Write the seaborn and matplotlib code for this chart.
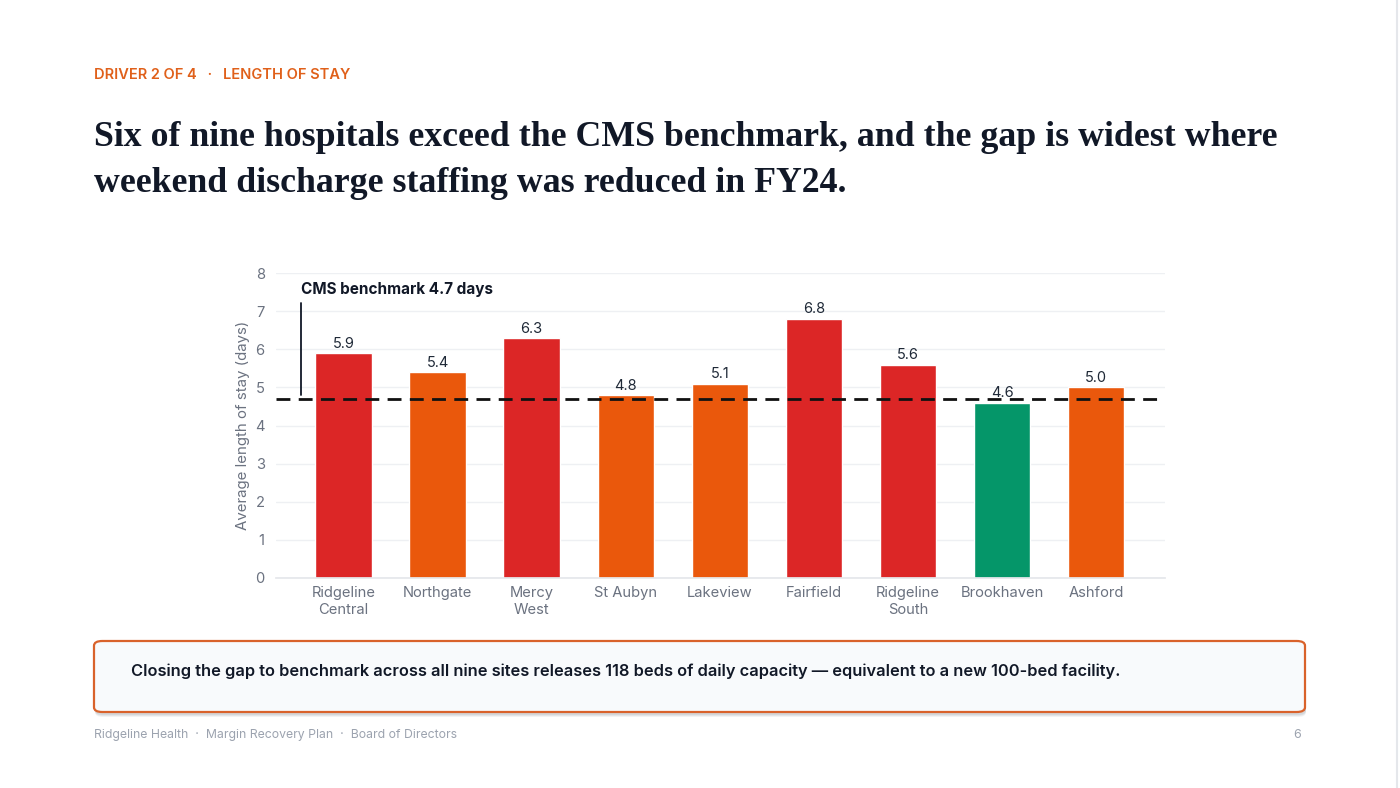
import matplotlib
matplotlib.use("Agg")
import matplotlib.pyplot as plt
import seaborn as sns
import pandas as pd
from matplotlib.patches import FancyBboxPatch

hospitals = ["Ridgeline\nCentral", "Northgate", "Mercy\nWest", "St Aubyn", "Lakeview",
             "Fairfield", "Ridgeline\nSouth", "Brookhaven", "Ashford"]
los_days = [5.9, 5.4, 6.3, 4.8, 5.1, 6.8, 5.6, 4.6, 5.0]
tier = ["high", "mid", "high", "mid", "mid", "high", "high", "below", "mid"]
benchmark = 4.7
y_ticks = [0, 1, 2, 3, 4, 5, 6, 7, 8]

palette = {"high": "#DC2626", "mid": "#EA580C", "below": "#059669"}

df = pd.DataFrame({"hospital": hospitals, "los": los_days, "tier": tier})

sns.set_theme(style="white")
plt.rcParams["font.family"] = ["Inter", "DejaVu Sans"]

W, H = 1400, 788
fig = plt.figure(figsize=(14, 7.88), dpi=100)
fig.patch.set_facecolor("white")

ax = fig.add_axes([0.197, 0.2665, 0.635, 0.387])
sns.barplot(data=df, x="hospital", y="los", hue="tier", palette=palette,
            dodge=False, width=0.6, legend=False, ax=ax, saturation=1)

ax.set_ylim(0, 8)
ax.set_xlim(-0.72, 8.73)
ax.set_yticks(y_ticks)
ax.grid(axis="y", color="#EEF0F3", linewidth=1)
ax.set_axisbelow(True)
for s in ["top", "right", "left"]:
    ax.spines[s].set_visible(False)
ax.spines["bottom"].set_color("#E5E7EB")
ax.tick_params(axis="both", length=0, colors="#6B7280", labelsize=10.6)
ax.tick_params(axis="x", pad=6)
ax.tick_params(axis="y", pad=8)
for lbl in ax.get_xticklabels():
    lbl.set_linespacing(1.25)
ax.set_xlabel("")
ax.set_ylabel("Average length of stay (days)", color="#6B7280", fontsize=10.8)
ax.yaxis.set_label_coords(-0.029, 0.5)

for i, v in enumerate(los_days):
    ax.text(i, v + 0.06, f"{v:.1f}", ha="center", va="bottom", fontsize=10.5, color="#1F2937")

ax.axhline(benchmark, color="#111111", linestyle=(0, (5, 3)), linewidth=2, zorder=5)
ax.plot([-0.447, -0.447], [4.8, 7.22], color="#111827", linewidth=1.3, zorder=5)
ax.text(-0.447, 7.58, "CMS benchmark 4.7 days", ha="left", va="center",
        fontsize=11, fontweight="bold", color="#111827")

# Header
fig.text(94 / W, 1 - 75 / H, "DRIVER 2 OF 4   ·   LENGTH OF STAY", ha="left", va="center",
         fontsize=10.5, fontweight="semibold", color="#E0601A")
t1 = fig.text(94 / W, 1 - 137 / H, "Six of nine hospitals exceed the CMS benchmark, and the gap is widest where",
              ha="left", va="center", fontsize=24, fontweight="bold", color="#111827",
              family="Liberation Serif")
t2 = fig.text(94 / W, 1 - 183 / H, "weekend discharge staffing was reduced in FY24.",
              ha="left", va="center", fontsize=24, fontweight="bold", color="#111827",
              family="Liberation Serif")
# fit first title line to the reference width (about 1184 px)
fig.canvas.draw()
w = t1.get_window_extent().width
fs = 24 * 1184 / w
t1.set_fontsize(fs)
t2.set_fontsize(fs)

# Callout box with shadow
x0, y0, x1, y1 = 94, 641, 1305, 712
for k, a in [(5, 0.18), (4, 0.25), (3, 0.35)]:
    shadow = FancyBboxPatch((x0 / W + 0.0007, 1 - (y1 + k) / H), (x1 - x0) / W, (y1 - y0) / H,
                            boxstyle="round,pad=0,rounding_size=0.006", transform=fig.transFigure,
                            facecolor="#B8BDC4", edgecolor="none", alpha=a, zorder=1)
    fig.patches.append(shadow)
box = FancyBboxPatch((x0 / W, 1 - y1 / H), (x1 - x0) / W, (y1 - y0) / H,
                     boxstyle="round,pad=0,rounding_size=0.006", transform=fig.transFigure,
                     facecolor="#F8FAFC", edgecolor="#D9622B", linewidth=1.6, zorder=2)
fig.patches.append(box)
fig.text(131 / W, 1 - 671 / H,
         "Closing the gap to benchmark across all nine sites releases 118 beds of daily capacity \u2014 equivalent to a new 100-bed facility.",
         ha="left", va="center", fontsize=11.8, fontweight="semibold", color="#111827", zorder=3)

# Footer
fig.text(94 / W, 1 - 735 / H, "Ridgeline Health  ·  Margin Recovery Plan  ·  Board of Directors",
         ha="left", va="center", fontsize=8.8, color="#9CA3AF")
fig.text(1301 / W, 1 - 735 / H, "6", ha="right", va="center", fontsize=9, color="#9CA3AF")

# page edge
fig.add_artist(plt.Line2D([1397 / W, 1397 / W], [0, 1], transform=fig.transFigure,
                          color="#E5E7EB", linewidth=1.5))

fig.savefig("out.png", dpi=100, facecolor="white")
